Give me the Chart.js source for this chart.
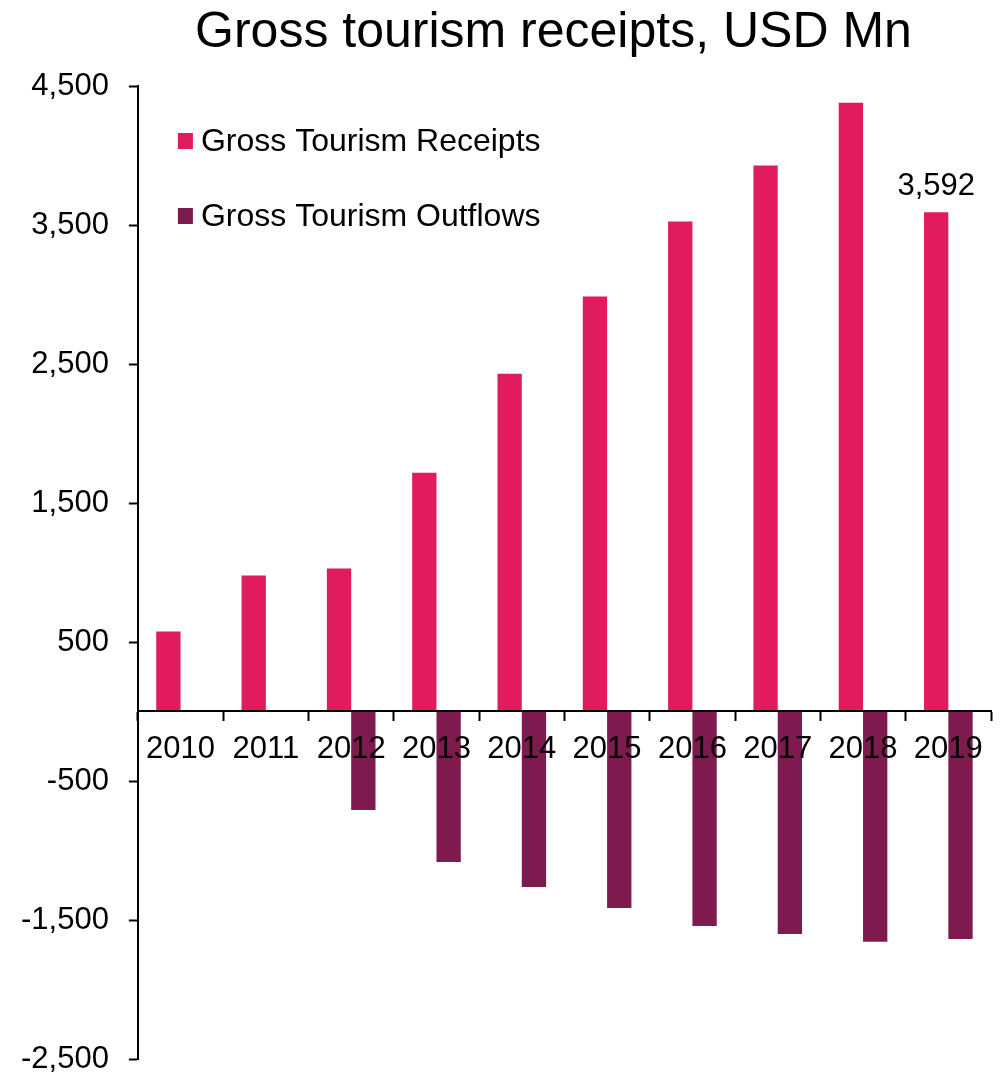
<!DOCTYPE html>
<html>
<head>
<meta charset="utf-8">
<script src="https://cdn.jsdelivr.net/npm/chart.js@4/dist/chart.umd.min.js"></script>
<style>
    html, body { margin: 0; padding: 0; background: #fff; }
    #wrap { width: 1002px; height: 1076px; position: relative; }
</style>
</head>
<body>
<div id="wrap"><canvas id="grafico"></canvas></div>
<script>
// Dados
const anos = ['2010', '2011', '2012', '2013', '2014', '2015', '2016', '2017', '2018', '2019'];
const receitas = [575, 978, 1028, 1718, 2430, 2985, 3525, 3928, 4380, 3592];
const saidas = [null, null, -708, -1082, -1262, -1413, -1543, -1600, -1657, -1636];
const ticksY = [-2500, -1500, -500, 500, 1500, 2500, 3500, 4500];
const rotulosDados = [9]; // só o último valor de receitas tem rótulo

const corReceitas = '#E01B5E';
const corSaidas = '#7F1A4F';
const fonte = "'Liberation Sans', Arial, sans-serif";

const formatNum = (v) => Math.round(v).toLocaleString('en-US');

Chart.defaults.font.family = fonte;
Chart.defaults.color = '#000';

// Legenda desenhada dentro da área do gráfico
const legendaInterna = {
    id: 'legendaInterna',
    afterLayout(chart) {
        // título um pouco à esquerda do centro da área do gráfico
        chart.titleBlock.left -= 11;
        chart.titleBlock.right -= 11;
    },
    afterDraw(chart) {
        const { ctx, chartArea } = chart;
        ctx.save();
        ctx.font = '32px ' + fonte;
        ctx.textBaseline = 'middle';
        ctx.textAlign = 'left';
        chart.data.datasets.forEach((ds, i) => {
            const y = chartArea.top + 55 + i * 75;
            const x = chartArea.left + 40;
            ctx.fillStyle = ds.backgroundColor;
            ctx.fillRect(x, y - 8, 15, 16);
            ctx.fillStyle = '#000';
            ctx.fillText(ds.label, x + 23, y + 1);
        });
        ctx.restore();
    }
};

// Rótulo de valor acima da barra
const rotuloValor = {
    id: 'rotuloValor',
    afterDatasetsDraw(chart) {
        const { ctx } = chart;
        const meta = chart.getDatasetMeta(0);
        ctx.save();
        ctx.font = '31px ' + fonte;
        ctx.fillStyle = '#000';
        ctx.textAlign = 'center';
        ctx.textBaseline = 'alphabetic';
        rotulosDados.forEach((i) => {
            const bar = meta.data[i];
            ctx.fillText(formatNum(receitas[i]), bar.x, bar.y - 17);
        });
        ctx.restore();
    }
};

new Chart(document.getElementById('grafico'), {
    type: 'bar',
    data: {
        labels: anos,
        datasets: [{
            label: 'Gross Tourism Receipts',
            data: receitas,
            backgroundColor: corReceitas,
            barPercentage: 1,
            categoryPercentage: 0.57
        }, {
            label: 'Gross Tourism Outflows',
            data: saidas,
            backgroundColor: corSaidas,
            barPercentage: 1,
            categoryPercentage: 0.57
        }]
    },
    options: {
        responsive: true,
        maintainAspectRatio: false,
        animation: false,
        layout: {
            padding: { left: 1, right: 11, top: 0, bottom: 17 }
        },
        plugins: {
            legend: { display: false },
            tooltip: { enabled: false },
            title: {
                display: true,
                text: 'Gross tourism receipts, USD Mn',
                fullSize: false,
                color: '#000',
                font: { size: 50, weight: 'normal' },
                padding: { top: 3, bottom: 23 }
            }
        },
        scales: {
            x: {
                position: { y: 0 },
                offset: true,
                grid: {
                    offset: true,
                    drawOnChartArea: false,
                    drawTicks: true,
                    tickLength: 9,
                    tickWidth: 2,
                    tickColor: '#000'
                },
                border: { color: '#000', width: 2, z: 1 },
                ticks: {
                    z: 1,
                    color: '#000',
                    font: { size: 31 },
                    padding: 10,
                    maxRotation: 0,
                    autoSkip: false
                }
            },
            y: {
                min: -2500,
                max: 4500,
                afterBuildTicks: (scale) => {
                    scale.ticks = ticksY.map(v => ({ value: v }));
                },
                afterFit: (scale) => {
                    scale.paddingTop = 0;
                    scale.paddingBottom = 0;
                },
                grid: {
                    drawOnChartArea: false,
                    drawTicks: true,
                    tickLength: 9,
                    tickWidth: 2,
                    tickColor: '#000'
                },
                border: { color: '#000', width: 2 },
                ticks: {
                    color: '#000',
                    font: { size: 31 },
                    padding: 20,
                    callback: (v) => formatNum(v)
                }
            }
        }
    },
    plugins: [legendaInterna, rotuloValor]
});
</script>
</body>
</html>
